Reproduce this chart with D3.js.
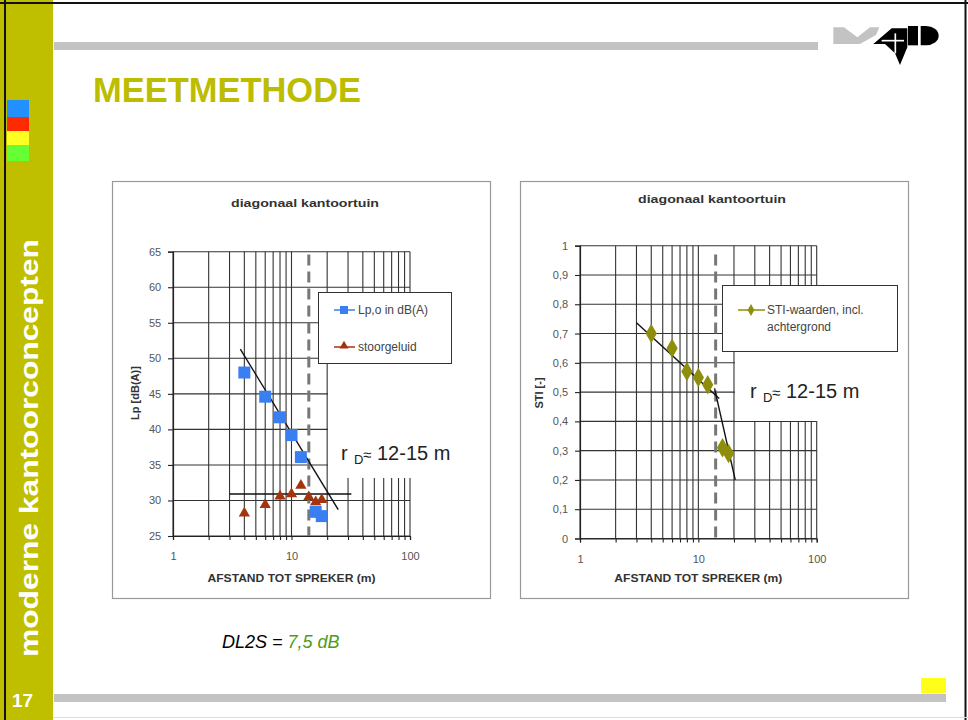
<!DOCTYPE html>
<html><head><meta charset="utf-8">
<script src="https://cdn.jsdelivr.net/npm/d3@7"></script>
<style>
body{margin:0;background:#fff;}
svg{display:block;font-family:"Liberation Sans",Arial,sans-serif;}
</style></head>
<body><svg id="c" width="968" height="720"></svg>
<script>
// ---------- data ----------
const chartTitle = "diagonaal kantoortuin";
const xAxisTitle = "AFSTAND TOT SPREKER (m)";
const xTickLabels = [1, 10, 100];
const xGridValues = [1,2,3,4,5,6,7,8,9,10,20,30,40,50,60,70,80,90,100];

// left chart
const lpTicks = [25,30,35,40,45,50,55,60,65];
const lpDist = [4, 6, 8, 10, 12, 16, 18];
const lpValues = [48.0, 44.6, 41.7, 39.2, 36.1, 28.4, 27.8];
const noiseDist = [4, 6, 8, 10, 12, 14, 16, 18];
const noiseValues = [28.2, 29.4, 30.6, 30.9, 32.1, 30.5, 29.8, 30.1];
const lpTrend = [[3.7, 51.3], [24.8, 28.7]];
const noiseLevel = [[3, 30.9], [32, 30.9]];
const seriesNamesLeft = ["Lp,o in dB(A)", "stoorgeluid"];

// right chart
const stiTicks = [0,0.1,0.2,0.3,0.4,0.5,0.6,0.7,0.8,0.9,1];
const stiDist = [4, 6, 8, 10, 12, 16, 18];
const stiValues = [0.70, 0.65, 0.57, 0.55, 0.525, 0.31, 0.29];
const stiTrend1 = [[3, 0.737], [15, 0.478]];
const stiTrend2 = [[13.7, 0.513], [20.5, 0.20]];
const seriesNamesRight = ["STI-waarden, incl.", "achtergrond"];

const rD = 14;
const rDLabel = "12-15 m";

// ---------- page ----------
const svg = d3.select("#c");
svg.append("rect").attr("width",968).attr("height",720).attr("fill","#fff");
const olive = "#bfbf00";
svg.append("rect").attr("x",0).attr("y",0).attr("width",53).attr("height",720).attr("fill",olive);
const sq = [["#2291ff",100,117],["#ff2a00",117,131],["#ffff22",131,145],["#66ff33",145,161]];
sq.forEach(s=>svg.append("rect").attr("x",7).attr("y",s[1]).attr("width",22).attr("height",s[2]-s[1]).attr("fill",s[0]));
svg.append("text").attr("transform","translate(38,448) rotate(-90)").attr("text-anchor","middle")
  .attr("font-weight","bold").attr("font-size",26).attr("fill","#fff")
  .attr("textLength",418).attr("lengthAdjust","spacingAndGlyphs").text("moderne kantoorconcepten");
svg.append("text").attr("x",12).attr("y",707).attr("font-weight","bold").attr("font-size",19).attr("fill","#fff").text("17");
// page frame
svg.append("line").attr("x1",5).attr("x2",5).attr("y1",0).attr("y2",720).attr("stroke","#111").attr("stroke-width",2);
svg.append("line").attr("x1",0).attr("x2",968).attr("y1",3).attr("y2",3).attr("stroke","#111").attr("stroke-width",2);
svg.append("line").attr("x1",965.5).attr("x2",965.5).attr("y1",0).attr("y2",720).attr("stroke","#111").attr("stroke-width",2);
svg.append("line").attr("x1",53).attr("x2",968).attr("y1",717.5).attr("y2",717.5).attr("stroke","#ddd").attr("stroke-width",1);
// gray bars
svg.append("rect").attr("x",54).attr("y",42).attr("width",764).attr("height",8).attr("fill","#c3c3c3");
svg.append("rect").attr("x",54).attr("y",694).attr("width",892).attr("height",8).attr("fill","#c3c3c3");
svg.append("rect").attr("x",921).attr("y",678).attr("width",25).attr("height",15).attr("fill","#ffff1a");
// title
svg.append("text").attr("x",93).attr("y",102).attr("font-weight","bold").attr("font-size",35).attr("fill","#bcbc00")
  .attr("textLength",268).attr("lengthAdjust","spacingAndGlyphs").text("MEETMETHODE");
// logo
const logo = svg.append("g").attr("transform","translate(820,20) scale(0.3333)");
logo.append("polygon").attr("points","40,22 72,22 112,52 150,22 178,22 168,45 120,72 40,72").attr("fill","#c3c3c3");
logo.append("polygon").attr("points","160,72 215,25 262,25 262,82 240,135 225,100 195,72").attr("fill","#000");
logo.append("line").attr("x1",185).attr("x2",252).attr("y1",62).attr("y2",62).attr("stroke","#fff").attr("stroke-width",5);
logo.append("line").attr("x1",226).attr("x2",226).attr("y1",40).attr("y2",100).attr("stroke","#fff").attr("stroke-width",5);
logo.append("rect").attr("x",264).attr("y",18).attr("width",30).attr("height",58).attr("fill","#000");
logo.append("path").attr("d","M302,18 L318,18 A38,29 0 0 1 318,76 L302,76 Z").attr("fill","#000");

// DL2S
const dl = svg.append("text").attr("x",222).attr("y",648).attr("font-size",18).attr("font-style","italic");
dl.append("tspan").attr("fill","#000").text("DL2S = ");
dl.append("tspan").attr("fill","#4f9a1a").text("7,5 dB");

// ---------- chart helper ----------
const gridColor = "#333";
function panel(x0,y0,x1,y1){
  svg.append("rect").attr("x",x0+0.5).attr("y",y0+0.5).attr("width",x1-x0).attr("height",y1-y0)
    .attr("fill","#fff").attr("stroke","#999").attr("stroke-width",1.2);
}
function drawChart(cfg){
  const g = svg.append("g");
  const x = d3.scaleLog().domain([1,100]).range(cfg.xr);
  const y = d3.scaleLinear().domain(cfg.yd).range(cfg.yr);
  // grid
  g.append("g").selectAll("line").data(xGridValues).join("line")
    .attr("x1",d=>x(d)).attr("x2",d=>x(d)).attr("y1",cfg.yr[0]).attr("y2",cfg.yr[1])
    .attr("stroke",gridColor).attr("stroke-width",1.1);
  g.append("g").selectAll("line").data(cfg.yTicks).join("line")
    .attr("x1",cfg.xr[0]).attr("x2",cfg.xr[1]).attr("y1",d=>y(d)).attr("y2",d=>y(d))
    .attr("stroke",gridColor).attr("stroke-width",1.1);
  // dashed rD
  g.append("line").attr("x1",x(rD)).attr("x2",x(rD)).attr("y1",y(cfg.dashTop)).attr("y2",cfg.yr[0])
    .attr("stroke","#777").attr("stroke-width",3).attr("stroke-dasharray","11,6");
  // white boxes
  g.append("rect").attr("x",cfg.wbox[0]).attr("y",cfg.wbox[1]).attr("width",cfg.wbox[2]).attr("height",cfg.wbox[3]).attr("fill","#fff");
  // legend
  const L = cfg.legend;
  g.append("rect").attr("x",L.x+0.5).attr("y",L.y+0.5).attr("width",L.w).attr("height",L.h)
    .attr("fill","#fff").attr("stroke","#333").attr("stroke-width",1);
  // axes
  const ax = g.append("g").attr("transform",`translate(0,${cfg.yr[0]})`)
    .call(d3.axisBottom(x).tickValues(xGridValues).tickSize(4).tickFormat(d=>xTickLabels.includes(d)?d:""));
  const ay = g.append("g").attr("transform",`translate(${cfg.xr[0]},0)`)
    .call(d3.axisLeft(y).tickValues(cfg.yTicks).tickSize(5).tickFormat(cfg.fmt));
  [ax,ay].forEach(a=>{
    a.select(".domain").attr("stroke","#222").attr("stroke-width",1.2);
    a.selectAll(".tick line").attr("stroke","#222").attr("stroke-width",1.1);
    a.selectAll("text").attr("fill","#555").attr("font-size",11).attr("font-family","Liberation Sans, Arial, sans-serif");
  });
  ax.selectAll("text").attr("dy","1.55em");
  ay.selectAll("text").attr("dx","-0.35em");
  // titles
  g.append("text").attr("x",cfg.titleX).attr("y",cfg.titleY).attr("text-anchor","middle")
    .attr("font-weight","bold").attr("font-size",11.5).attr("fill","#333")
    .attr("textLength",148).attr("lengthAdjust","spacingAndGlyphs").text(chartTitle);
  g.append("text").attr("x",(cfg.xr[0]+cfg.xr[1])/2).attr("y",582).attr("text-anchor","middle")
    .attr("font-weight","bold").attr("font-size",10.5).attr("fill","#333")
    .attr("textLength",168).attr("lengthAdjust","spacingAndGlyphs").text(xAxisTitle);
  g.append("text").attr("transform",`translate(${cfg.yLabelX},393) rotate(-90)`).attr("text-anchor","middle")
    .attr("font-weight","bold").attr("font-size",11).attr("fill","#333").text(cfg.yLabel);
  // rD label
  const t = g.append("text").attr("x",cfg.rdPos[0]).attr("y",cfg.rdPos[1]).attr("font-size",20).attr("fill","#222");
  t.append("tspan").text("r");
  t.append("tspan").attr("x",cfg.rdPos[0]+13).attr("dy",4).attr("font-size",13).text("D");
  t.append("tspan").attr("x",cfg.rdPos[0]+22).attr("dy",-4).attr("font-size",15).text("≈");
  t.append("tspan").attr("x",cfg.rdPos[0]+36).text(rDLabel);
  return {g,x,y};
}

// ---------- left chart ----------
panel(112,181,490,598);
const line = (x,y)=>d3.line().x(d=>x(d[0])).y(d=>y(d[1]));
{
  const {g,x,y} = drawChart({
    xr:[173,410], yd:[25,65], yr:[536,251.7], yTicks:lpTicks, fmt:d=>d, dashTop:64.6,
    wbox:[328,363,127,115],
    legend:{x:318,y:292,w:133,h:71},
    titleX:305, titleY:207, yLabel:"Lp [dB(A)]", yLabelX:139, rdPos:[341,460]
  });
  const L = line(x,y);
  g.append("path").attr("d",L(lpTrend)).attr("stroke","#111").attr("stroke-width",1.4).attr("fill","none");
  g.append("path").attr("d",L(noiseLevel)).attr("stroke","#111").attr("stroke-width",1.6).attr("fill","none");
  const tri = d3.symbol().type(d3.symbolTriangle).size(55);
  g.append("g").selectAll("path").data(noiseDist.map((d,i)=>[d,noiseValues[i]])).join("path")
    .attr("d",tri).attr("transform",d=>`translate(${x(d[0])},${y(d[1])})`).attr("fill","#a3340e");
  g.append("g").selectAll("rect").data(lpDist.map((d,i)=>[d,lpValues[i]])).join("rect")
    .attr("x",d=>x(d[0])-6).attr("y",d=>y(d[1])-6).attr("width",12).attr("height",12).attr("fill","#3a7ff2");
  // legend entries
  const lg = g.append("g");
  lg.append("line").attr("x1",334).attr("x2",355).attr("y1",310).attr("y2",310).attr("stroke","#3a7ff2").attr("stroke-width",1.5);
  lg.append("rect").attr("x",340).attr("y",306).attr("width",8).attr("height",8).attr("fill","#3a7ff2");
  lg.append("line").attr("x1",334).attr("x2",355).attr("y1",347).attr("y2",347).attr("stroke","#a3340e").attr("stroke-width",1.5);
  lg.append("path").attr("d",d3.symbol().type(d3.symbolTriangle).size(35)).attr("transform","translate(344,346)").attr("fill","#a3340e");
  lg.append("text").attr("x",358).attr("y",314).attr("font-size",12).attr("fill","#444").text(seriesNamesLeft[0]);
  lg.append("text").attr("x",358).attr("y",351).attr("font-size",12).attr("fill","#444").text(seriesNamesLeft[1]);
}

// ---------- right chart ----------
panel(520,181,908,598);
{
  const {g,x,y} = drawChart({
    xr:[580,816.7], yd:[0,1], yr:[538.5,245.7], yTicks:stiTicks, fmt:d=>String(d).replace(".",","), dashTop:0.97,
    wbox:[735,351,165,70],
    legend:{x:722,y:285,w:175,h:66},
    titleX:712, titleY:203, yLabel:"STI [-]", yLabelX:543, rdPos:[750,398]
  });
  const L = line(x,y);
  g.append("path").attr("d",L(stiTrend1)).attr("stroke","#111").attr("stroke-width",1.4).attr("fill","none");
  g.append("path").attr("d",L(stiTrend2)).attr("stroke","#111").attr("stroke-width",1.4).attr("fill","none");
  const dia = d3.symbol().type(d3.symbolDiamond).size(110);
  g.append("g").selectAll("path").data(stiDist.map((d,i)=>[d,stiValues[i]])).join("path")
    .attr("d",dia).attr("transform",d=>`translate(${x(d[0])},${y(d[1])})`).attr("fill","#8e8e0c");
  const lg = g.append("g");
  lg.append("line").attr("x1",738).attr("x2",765).attr("y1",310).attr("y2",310).attr("stroke","#8e8e0c").attr("stroke-width",1.5);
  lg.append("path").attr("d",d3.symbol().type(d3.symbolDiamond).size(40)).attr("transform","translate(751,310)").attr("fill","#8e8e0c");
  lg.append("text").attr("x",767).attr("y",314).attr("font-size",12).attr("fill","#444").text(seriesNamesRight[0]);
  lg.append("text").attr("x",767).attr("y",331).attr("font-size",12).attr("fill","#444").text(seriesNamesRight[1]);
}
</script></body></html>
